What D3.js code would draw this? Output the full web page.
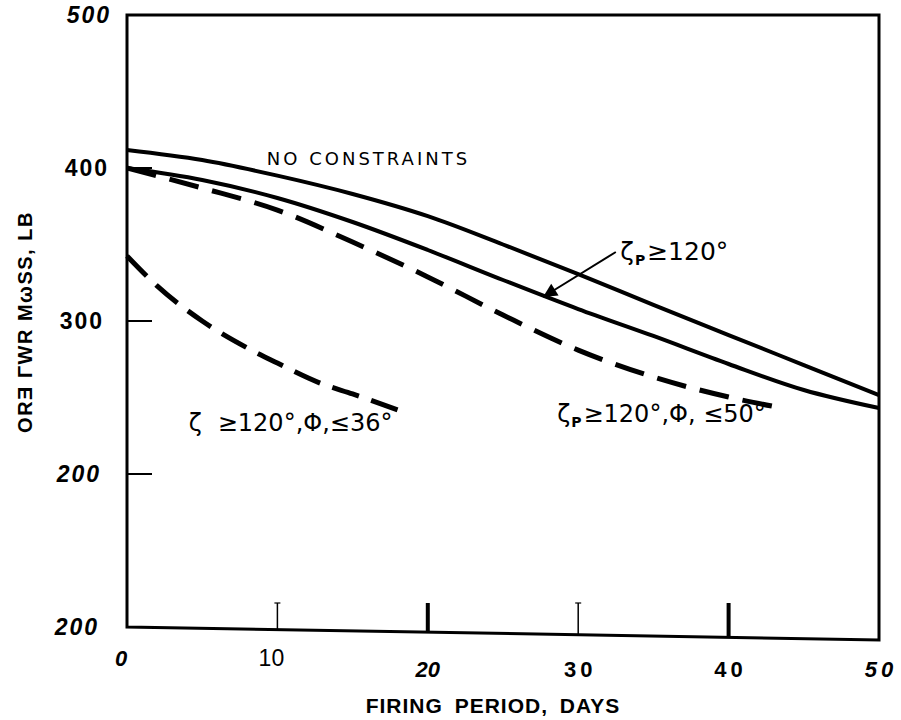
<!DOCTYPE html>
<html><head><meta charset="utf-8">
<script src="https://cdn.jsdelivr.net/npm/d3@7"></script>
<style>body{margin:0;background:#fff}svg{display:block}</style>
</head><body>
<svg id="c" width="901" height="720"></svg>
<script>
// ---- data ----
const days = [0,5,10,15,20,25,30,35,40,45,50];
const noConstraints = [411.8,405.2,395.0,383.0,368.5,350.0,330.7,310.5,290.8,271.2,251.6];
const zetaP = [400.0,392.2,380.4,364.7,346.4,326.8,307.8,290.2,271.9,254.9,243.1];
const zetaPPhi50Days = [0,5,10,15,20,25,30,35,40,43.2];
const zetaPPhi50 = [400.0,386.9,372.5,351.6,328.8,303.9,281.0,263.4,250.3,243.8];
const zetaPhi36Days = [0,2,5,8,10,13,15,18.2];
const zetaPhi36 = [342.5,322.9,300.0,282.4,272.5,258.8,252.3,241.2];
const yTickValues = [500,400,300,200,100];
const yTickLabels = ["500","400","300","200","200"];
const yTickItalic = [true,false,false,true,true];
const xTickValues = [0,10,20,30,40,50];
const xTickLabels = ["0","10","20","30","40","50"];
const xTickItalic = [true,false,true,false,false,true];
const xTickMarkValues = [10,20,30,40];
const xTickMarkHeavy = [false,true,false,true];
const yTickMarkValues = [400,300,200];
const xTitle = "FIRING PERIOD, DAYS";
const yTitle = "ORƎ ΓWR MωSS, LB";

const svg = d3.select("#c");
const x = d3.scaleLinear().domain([0,50]).range([127,879]);
const y = d3.scaleLinear().domain([100,500]).range([627,15]);
const skew = 13; // scanned bottom edge slopes down to the right

// frame
svg.append("path")
  .attr("d", `M${x(0)},${y(100)} L${x(0)},${y(500)} L${x(50)},${y(500)} L${x(50)},${y(100)+skew} Z`)
  .attr("fill","none").attr("stroke","#000").attr("stroke-width",3);

// y ticks (inward)
svg.selectAll(".yt").data(yTickMarkValues).enter().append("line")
  .attr("x1", x(0)).attr("x2", x(0)+25)
  .attr("y1", d=>y(d)).attr("y2", d=>y(d))
  .attr("stroke","#000").attr("stroke-width",2);

// x ticks (inward from bottom)
xTickMarkValues.forEach((v,i)=>{
  const bx = x(v), by = y(100) + skew*(bx-x(0))/(x(50)-x(0));
  const g = svg.append("g");
  g.append("line").attr("x1",bx).attr("x2",bx).attr("y1",by).attr("y2",y(100)-24)
    .attr("stroke","#000").attr("stroke-width", xTickMarkHeavy[i]?4:1.5);
  if(!xTickMarkHeavy[i]){
    g.append("line").attr("x1",bx-3).attr("x2",bx+3).attr("y1",y(100)-24).attr("y2",y(100)-24)
      .attr("stroke","#000").attr("stroke-width",1.2);
  }
});

// y tick labels
const yLabelRight = [111,109,104,101,99];
svg.selectAll(".yl").data(yTickValues).enter().append("text")
  .attr("x", (d,i)=> yLabelRight[i])
  .attr("y", d=>y(d))
  .attr("dy","0.36em")
  .attr("text-anchor","end")
  .attr("font-family","Liberation Sans, Arial, sans-serif")
  .attr("font-weight","bold")
  .attr("font-size",23)
  .attr("letter-spacing",2)
  .attr("font-style",(d,i)=>yTickItalic[i]?"italic":"normal")
  .text((d,i)=>yTickLabels[i]);

// x tick labels
svg.selectAll(".xl").data(xTickValues).enter().append("text")
  .attr("x", (d,i)=> x(d) + (i===0?-6:0) + (i===1?-6:0) + (i>=3?2:0))
  .attr("y", (d,i)=> i<2 ? 666 : 677)
  .attr("text-anchor","middle")
  .attr("font-family","Liberation Sans, Arial, sans-serif")
  .attr("font-weight",(d,i)=> i===1?"normal":"bold")
  .attr("font-size",(d,i)=> i===1?23:22)
  .attr("letter-spacing",(d,i)=> i>=3?4:0)
  .attr("font-style",(d,i)=>xTickItalic[i]?"italic":"normal")
  .text((d,i)=>xTickLabels[i]);

// axis titles
svg.append("text").attr("x",493).attr("y",713).attr("text-anchor","middle")
  .attr("font-family","Liberation Sans, Arial, sans-serif").attr("font-weight","bold")
  .attr("font-size",21).attr("letter-spacing",1).attr("word-spacing",5).text(xTitle);
svg.append("text").attr("transform","translate(32,322) rotate(-90)").attr("text-anchor","middle")
  .attr("font-family","Liberation Sans, Arial, sans-serif").attr("font-weight","bold")
  .attr("font-size",20).attr("letter-spacing",1.5).text(yTitle);

// curves
const line = d3.line().curve(d3.curveMonotoneX).x(d=>x(d[0])).y(d=>y(d[1]));
const series = [
  {xs:days, ys:noConstraints, dash:null},
  {xs:days, ys:zetaP, dash:null},
  {xs:zetaPPhi50Days, ys:zetaPPhi50, dash:"30,14"},
  {xs:zetaPhi36Days, ys:zetaPhi36, dash:"28,13"}
];
series.forEach(s=>{
  svg.append("path").datum(s.xs.map((d,i)=>[d,s.ys[i]]))
    .attr("d", line).attr("fill","none").attr("stroke","#000")
    .attr("stroke-width", s.dash?5:4)
    .attr("stroke-dasharray", s.dash)
    .attr("stroke-linecap","butt");
});

// annotations
const annFont = "DejaVu Sans, Verdana, sans-serif";
svg.append("text").attr("x",x(9.3)).attr("y",y(402)).attr("font-family",annFont)
  .attr("font-size",18).attr("letter-spacing",3).text("NO CONSTRAINTS");

function zetaLabel(px, py, sub, rest, fs){
  const t = svg.append("text").attr("x",px).attr("y",py).attr("font-family",annFont).attr("font-size",fs);
  t.append("tspan").text("ζ");
  if(sub){
    t.append("tspan").attr("font-size",14).attr("dy",5).attr("dx",1).attr("font-weight","bold").text(sub);
    t.append("tspan").attr("dy",-5).attr("dx",2).text(rest);
  } else {
    t.append("tspan").attr("dx",16).text(rest);
  }
}
zetaLabel(x(32.8), y(340), "P", "≥120°", 25);
zetaLabel(x(4.1), y(228), null, "≥120°,Φ,≤36°", 24);
zetaLabel(x(28.6), y(234), "P", "≥120°,Φ, ≤50°", 24);

// arrow
const arrowFrom = [32.5, 345.1];
const arrowTo = [27.66, 315.7];
const defs = svg.append("defs");
defs.append("marker").attr("id","ah").attr("viewBox","0 0 10 10").attr("refX",10).attr("refY",5)
  .attr("markerWidth",30).attr("markerHeight",14).attr("orient","auto").attr("markerUnits","userSpaceOnUse")
  .append("path").attr("d","M0,0 L10,5 L0,10 Z").attr("fill","#000");
svg.append("line").attr("x1",x(arrowFrom[0])).attr("y1",y(arrowFrom[1]))
  .attr("x2",x(arrowTo[0])).attr("y2",y(arrowTo[1]))
  .attr("stroke","#000").attr("stroke-width",2).attr("marker-end","url(#ah)");
</script>
</body></html>
